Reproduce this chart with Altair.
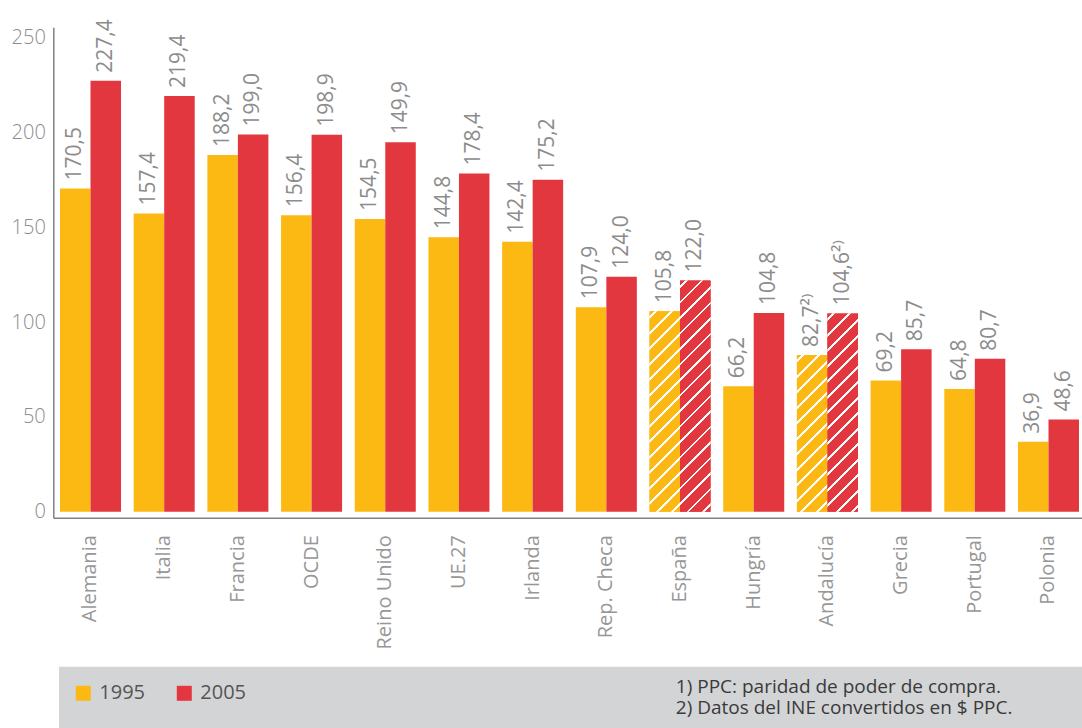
import altair as alt
import pandas as pd

countries = ["Alemania", "Italia", "Francia", "OCDE", "Reino Unido", "UE.27", "Irlanda",
             "Rep. Checa", "España", "Hungría", "Andalucía", "Grecia", "Portugal", "Polonia"]
years = ["1995", "2005"]
# bar heights as drawn
v1995 = [170.5, 157.4, 188.2, 156.4, 154.5, 144.8, 142.4, 107.9, 105.8, 66.2, 82.7, 69.2, 64.8, 36.9]
v2005 = [227.4, 219.4, 199.0, 198.9, 194.9, 178.4, 175.2, 124.0, 122.0, 104.8, 104.6, 85.7, 80.7, 48.6]
# data labels as printed
lab1995 = ["170,5", "157,4", "188,2", "156,4", "154,5", "144,8", "142,4",
           "107,9", "105,8", "66,2", "82,7²⁾", "69,2", "64,8", "36,9"]
lab2005 = ["227,4", "219,4", "199,0", "198,9", "149,9", "178,4", "175,2",
           "124,0", "122,0", "104,8", "104,6²⁾", "85,7", "80,7", "48,6"]
hatched = ["España", "Andalucía"]
footnotes = ["1) PPC: paridad de poder de compra.", "2) Datos del INE convertidos en $ PPC."]
y_ticks = [0, 50, 100, 150, 200, 250]

ORANGE = "#FDB913"
RED = "#E3373F"
GRAY = "#8c8c8c"
FONT = "Open Sans"

rows = []
for i, c in enumerate(countries):
    rows.append({"pais": c, "anio": "1995", "valor": v1995[i], "etiqueta": lab1995[i]})
    rows.append({"pais": c, "anio": "2005", "valor": v2005[i], "etiqueta": lab2005[i]})
df = pd.DataFrame(rows)

W = 1028.7
H = 490.4
Y_DOM = [-3.17, 255.6]
PAD_IN = 0.172
PAD_OUT = 0.0658
ALIGN = 0.69

step = W / (len(countries) - PAD_IN + 2 * PAD_OUT)
bar_w = step * (1 - PAD_IN) / 2
px_per_unit = H / (Y_DOM[1] - Y_DOM[0])

x_enc = alt.X("pais:N", sort=countries,
              scale=alt.Scale(paddingInner=PAD_IN, paddingOuter=PAD_OUT, align=ALIGN),
              axis=alt.Axis(title=None, labelAngle=270, ticks=False, tickSize=0, labelPadding=17,
                            domainColor="#7b8389", domainWidth=1.5, labelFontSize=20,
                            labelColor="#979797", labelFont=FONT, labelFontWeight=400, labelLimit=300))
xo_enc = alt.XOffset("anio:N", sort=years, scale=alt.Scale(domain=years, paddingInner=0, paddingOuter=0))
y_enc = alt.Y("valor:Q", scale=alt.Scale(domain=Y_DOM, nice=False, zero=False),
              axis=alt.Axis(title=None, values=y_ticks, grid=False, ticks=False, tickSize=0,
                            labelPadding=8, domainColor="#7b8389", domainWidth=1.5,
                            labelFontSize=20, labelColor=GRAY, labelFont=FONT, labelFontWeight=300))

base = alt.Chart(df)

bars = base.mark_bar().encode(
    x=x_enc, xOffset=xo_enc, y=y_enc, y2=alt.datum(0),
    color=alt.Color("anio:N", scale=alt.Scale(domain=years, range=[ORANGE, RED]),
                    legend=alt.Legend(title=None, orient="none", legendX=20, legendY=656,
                                      direction="horizontal", symbolType="square",
                                      symbolSize=225, symbolStrokeWidth=0, labelFontSize=20,
                                      labelColor="#555555", labelFont=FONT, labelFontWeight=400,
                                      labelOffset=6, columnPadding=29, padding=0)),
)


def hatch_gradient(color, h, w, period=15.5, stripe=2.8):
    S = w + h
    k = S / (w * w + h * h)
    stops = [alt.GradientStop(offset=0, color=color)]
    s = 5.0
    while s + stripe < S:
        a, b = s / S, (s + stripe) / S
        stops += [alt.GradientStop(offset=a, color=color), alt.GradientStop(offset=a, color="white"),
                  alt.GradientStop(offset=b, color="white"), alt.GradientStop(offset=b, color=color)]
        s += period
    stops.append(alt.GradientStop(offset=1, color=color))
    return alt.LinearGradient(gradient="linear", stops=stops, x1=0, y1=0, x2=w * k, y2=h * k)


hatch_layers = []
for c in hatched:
    i = countries.index(c)
    for yr, vals, col in (("1995", v1995, ORANGE), ("2005", v2005, RED)):
        h = vals[i] * px_per_unit
        grad = hatch_gradient(col, h, bar_w)
        hatch_layers.append(
            base.transform_filter((alt.datum.pais == c) & (alt.datum.anio == yr))
            .mark_bar(fill=grad)
            .encode(x=x_enc, xOffset=xo_enc, y=y_enc, y2=alt.datum(0))
        )

labels = base.mark_text(angle=270, align="left", baseline="middle", dx=8, fontSize=21,
                        font=FONT, fontWeight=400, color=GRAY).encode(
    x=x_enc, xOffset=xo_enc, y=y_enc, text="etiqueta:N")

one = alt.Data(values=[{"k": 1}])
panel = alt.Chart(one).mark_rect(color="#d3d4d6").encode(
    x=alt.value(5.7), x2=alt.value(W), y=alt.value(639.4), y2=alt.value(H + 210.3))

notes = []
for j, t in enumerate(footnotes):
    notes.append(alt.Chart(one).mark_text(align="left", baseline="alphabetic", fontSize=19,
                                          font=FONT, fontWeight=400, color="#3a3a3a").encode(
        x=alt.value(622.5), y=alt.value(665.6 + 21 * j), text=alt.value(t)))

chart = alt.layer(panel, bars, *hatch_layers, labels, *notes).properties(
    width=W, height=H,
    autosize=alt.AutoSizeParams(type="none"),
    padding={"left": 53.3, "top": 27.3, "right": 0, "bottom": 210.3},
    background="white",
).configure_view(stroke=None)

chart.save("out.html", embed_options={"renderer": "svg", "actions": False})
